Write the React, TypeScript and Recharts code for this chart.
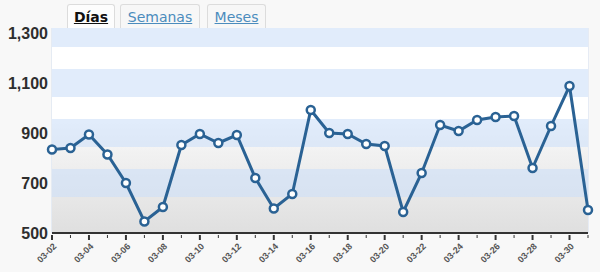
import { LineChart, Line, XAxis, YAxis, CartesianGrid, ReferenceArea } from 'recharts';

const dates = [
  '03-02', '03-03', '03-04', '03-05', '03-06', '03-07', '03-08', '03-09', '03-10', '03-11',
  '03-12', '03-13', '03-14', '03-15', '03-16', '03-17', '03-18', '03-19', '03-20', '03-21',
  '03-22', '03-23', '03-24', '03-25', '03-26', '03-27', '03-28', '03-29', '03-30', '03-31',
];
const visits = [
  834, 840, 894, 814, 700, 546, 604, 852, 896, 860,
  892, 720, 598, 656, 992, 900, 896, 856, 848, 584,
  740, 932, 908, 952, 964, 968, 760, 928, 1088, 592,
];
const yTicks = [500, 700, 900, 1100, 1300];
const tabs = ['Días', 'Semanas', 'Meses'];

const data = dates.map((date, i) => ({ date, value: visits[i] }));

// light blue stripes around each tick label
const bands = [
  [644, 756],
  [844, 956],
  [1044, 1156],
  [1244, 1320],
];

const LINE = '#2a6294';

function XTick(props: any) {
  const { x, y, payload, index } = props;
  const major = index % 2 === 0;
  return (
    <g>
      <line x1={x} y1={y} x2={x} y2={y + (major ? 5 : 3)} stroke="#333" strokeWidth={major ? 2 : 1} />
      {major && (
        <text
          x={x + 5}
          y={y + 12}
          transform={`rotate(-45 ${x + 5} ${y + 12})`}
          textAnchor="end"
          fontSize={9}
          fontWeight="bold"
          fill="#555"
          fontFamily="'Liberation Sans', Arial, sans-serif"
        >
          {payload.value}
        </text>
      )}
    </g>
  );
}

export default function App() {
  return (
    <div style={{ position: 'fixed', left: 0, top: 0, width: 600, height: 272, background: '#f8f8f8', overflow: 'hidden' }}>
      <div style={{ position: 'absolute', left: 0, top: 0 }}>
        <LineChart width={600} height={272} data={data} margin={{ top: 28, right: 12, bottom: 0, left: 6 }}>
          <defs>
            <linearGradient id="plotBg" x1="0" y1="0" x2="0" y2="1">
              <stop offset="0" stopColor="#ffffff" />
              <stop offset="0.45" stopColor="#ffffff" />
              <stop offset="0.6" stopColor="#f2f2f2" />
              <stop offset="1" stopColor="#dfdfdf" />
            </linearGradient>
          </defs>
          <ReferenceArea y1={500} y2={1320} fill="url(#plotBg)" fillOpacity={1} stroke="none" ifOverflow="hidden" />
          {bands.map(([a, b]) => (
            <ReferenceArea key={a} y1={a} y2={b} fill="#cddff8" fillOpacity={0.6} stroke="none" ifOverflow="hidden" />
          ))}
          <CartesianGrid horizontal={false} stroke="#d3deef" strokeWidth={1} />
          <XAxis
            dataKey="date"
            interval={0}
            tickSize={0}
            tickLine={false}
            height={39}
            axisLine={{ stroke: '#333', strokeWidth: 2 }}
            tick={<XTick />}
          />
          <YAxis
            domain={[500, 1320]}
            ticks={yTicks}
            width={46}
            axisLine={false}
            tickLine={false}
            tickSize={0}
            tickMargin={4}
            allowDataOverflow
            tickFormatter={(v: number) => v.toLocaleString('en-US')}
            tick={{ fontSize: 16, fontWeight: 'bold', fill: '#2e2e2e', fontFamily: "'Liberation Sans', Arial, sans-serif" }}
          />
          <Line
            type="linear"
            dataKey="value"
            stroke={LINE}
            strokeWidth={3}
            dot={{ r: 4, fill: '#fff', stroke: LINE, strokeWidth: 2.5 }}
            isAnimationActive={false}
          />
        </LineChart>
      </div>
      {tabs.map((t, i) => {
        const lefts = [67, 120, 207];
        const widths = [48, 80, 59];
        return (
          <div
            key={t}
            style={{
              position: 'absolute',
              left: lefts[i],
              top: 4,
              width: widths[i],
              height: 24,
              boxSizing: 'border-box',
              border: '1px solid #dcdcdc',
              borderBottom: 'none',
              borderRadius: '3px 3px 0 0',
              background: i === 0 ? '#fdfdfd' : '#f7f7f7',
              textAlign: 'center',
              fontFamily: "'DejaVu Sans', Verdana, sans-serif",
              fontSize: 14,
              lineHeight: '24px',
              fontWeight: i === 0 ? 'bold' : 'normal',
              color: i === 0 ? '#111' : '#4b8cbd',
              textDecoration: 'underline',
            }}
          >
            {t}
          </div>
        );
      })}
    </div>
  );
}
